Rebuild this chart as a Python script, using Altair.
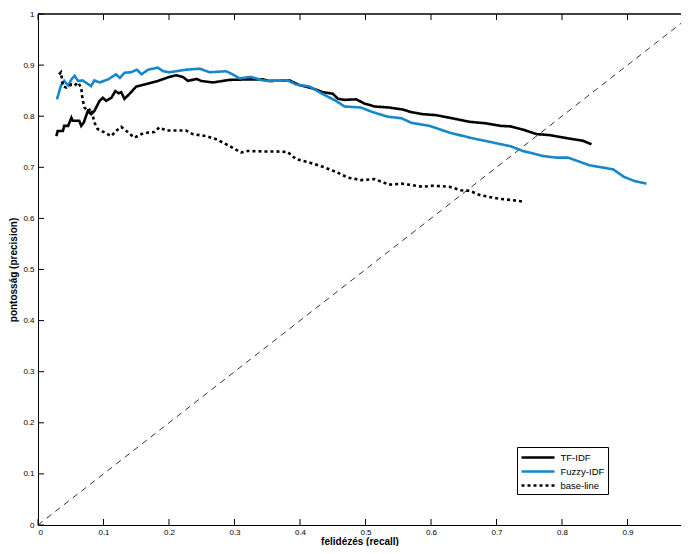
import altair as alt
import pandas as pd

tf_x = [0.028,0.030,0.038,0.040,0.046,0.051,0.053,0.063,0.066,0.070,0.076,0.081,0.086,0.094,0.099,0.104,0.112,0.118,0.123,0.127,0.132,0.140,0.150,0.163,0.183,0.201,0.211,0.221,0.229,0.242,0.249,0.267,0.292,0.318,0.343,0.353,0.384,0.399,0.420,0.435,0.450,0.458,0.468,0.486,0.498,0.514,0.536,0.557,0.570,0.587,0.608,0.636,0.659,0.684,0.707,0.722,0.740,0.761,0.781,0.812,0.832,0.845]
tf_y = [0.761,0.771,0.771,0.781,0.781,0.797,0.791,0.791,0.781,0.788,0.810,0.804,0.810,0.830,0.836,0.830,0.836,0.849,0.845,0.847,0.834,0.844,0.858,0.862,0.869,0.877,0.880,0.877,0.869,0.873,0.869,0.866,0.871,0.872,0.872,0.869,0.870,0.861,0.854,0.847,0.844,0.834,0.832,0.833,0.825,0.819,0.817,0.813,0.808,0.804,0.802,0.795,0.789,0.786,0.781,0.780,0.774,0.765,0.763,0.756,0.752,0.745]

fz_x = [0.029,0.035,0.040,0.046,0.051,0.056,0.061,0.068,0.081,0.086,0.094,0.107,0.119,0.125,0.132,0.142,0.151,0.158,0.168,0.183,0.191,0.201,0.226,0.247,0.262,0.287,0.297,0.308,0.325,0.343,0.353,0.381,0.394,0.415,0.435,0.455,0.468,0.493,0.511,0.534,0.555,0.570,0.598,0.628,0.659,0.689,0.722,0.740,0.771,0.791,0.809,0.842,0.878,0.895,0.911,0.929]
fz_y = [0.833,0.860,0.869,0.860,0.872,0.879,0.869,0.870,0.859,0.870,0.866,0.872,0.882,0.875,0.885,0.886,0.891,0.882,0.891,0.895,0.888,0.886,0.891,0.893,0.886,0.888,0.882,0.874,0.877,0.870,0.869,0.870,0.862,0.858,0.843,0.830,0.819,0.817,0.808,0.799,0.796,0.787,0.781,0.768,0.758,0.750,0.741,0.732,0.722,0.719,0.719,0.704,0.696,0.681,0.673,0.668]

bl_x = [0.032,0.035,0.038,0.043,0.051,0.056,0.061,0.066,0.068,0.071,0.076,0.081,0.086,0.091,0.102,0.112,0.119,0.127,0.135,0.147,0.158,0.168,0.178,0.185,0.196,0.211,0.226,0.236,0.257,0.272,0.292,0.310,0.320,0.343,0.364,0.381,0.394,0.415,0.435,0.455,0.473,0.493,0.514,0.536,0.555,0.572,0.587,0.603,0.628,0.646,0.659,0.674,0.689,0.707,0.722,0.740]
bl_y = [0.882,0.886,0.859,0.856,0.862,0.860,0.866,0.856,0.833,0.817,0.810,0.815,0.788,0.775,0.768,0.761,0.771,0.779,0.771,0.758,0.765,0.768,0.769,0.778,0.772,0.772,0.772,0.765,0.761,0.755,0.742,0.729,0.732,0.731,0.731,0.730,0.716,0.709,0.701,0.691,0.680,0.675,0.677,0.666,0.668,0.665,0.662,0.664,0.662,0.655,0.654,0.646,0.642,0.638,0.636,0.633]

series_names = ["TF-IDF", "Fuzzy-IDF", "base-line"]
series_colors = ["#000000", "#1787cc", "#000000"]
series_dash = [[1, 0], [1, 0], [3, 3]]

diag_x = [0.0, 1.0]
diag_y = [0.0, 1.0]
x_ticks = [0, 0.1, 0.2, 0.3, 0.4, 0.5, 0.6, 0.7, 0.8, 0.9]
y_ticks = [0, 0.1, 0.2, 0.3, 0.4, 0.5, 0.6, 0.7, 0.8, 0.9, 1.0]

# plot area (the original axes run a little past the right edge of the picture)
W, H = 643, 511
X_MAX = 643 / 655

rows = []
for name, xs, ys in zip(series_names, [tf_x, fz_x, bl_x], [tf_y, fz_y, bl_y]):
    for i, (a, b) in enumerate(zip(xs, ys)):
        rows.append({"series": name, "recall": a, "precision": b, "i": i})
df = pd.DataFrame(rows)
diag = pd.DataFrame({"recall": diag_x, "precision": diag_y})
xt = pd.DataFrame({"t": x_ticks})
yt = pd.DataFrame({"t": y_ticks})

xscale = alt.Scale(domain=[0, X_MAX], nice=False, zero=False)
yscale = alt.Scale(domain=[0, 1], nice=False, zero=False)

xaxis = alt.Axis(values=x_ticks, format=".1~f", title="felidézés (recall)",
                 ticks=False, domain=True, grid=False, labelPadding=3, titlePadding=0)
yaxis = alt.Axis(values=y_ticks, format=".1~f", title="pontosság (precision)",
                 ticks=False, domain=True, grid=False, labelPadding=4, titlePadding=4)

lines = alt.Chart(df).mark_line(strokeWidth=2.6, clip=True).encode(
    x=alt.X("recall:Q", scale=xscale, axis=xaxis),
    y=alt.Y("precision:Q", scale=yscale, axis=yaxis),
    color=alt.Color("series:N", scale=alt.Scale(domain=series_names, range=series_colors), title=None,
                    legend=alt.Legend(orient="none", legendX=479, legendY=433,
                                      symbolType="M-2.75,0H2.75", symbolSize=144,
                                      symbolStrokeWidth=2.6, symbolOffset=10.5,
                                      strokeColor="black", padding=3, rowPadding=1,
                                      labelFontSize=9.5, labelFont="Liberation Sans",
                                      labelOffset=15, fillColor="white", cornerRadius=0)),
    strokeDash=alt.StrokeDash("series:N", scale=alt.Scale(domain=series_names, range=series_dash),
                              title=None, legend=None),
    order="i:Q",
)

diag_line = alt.Chart(diag).mark_line(color="black", strokeWidth=0.8, strokeDash=[6, 5], clip=True).encode(
    x=alt.X("recall:Q", scale=xscale),
    y=alt.Y("precision:Q", scale=yscale),
)

top_border = alt.Chart(diag).mark_rule(color="black", strokeWidth=1).encode(
    x=alt.value(0), x2=alt.value(W), y=alt.value(0))

tick_b = alt.Chart(xt).mark_rule(color="black", strokeWidth=1).encode(
    x=alt.X("t:Q", scale=xscale), y=alt.value(H), y2=alt.value(H - 6))
tick_t = alt.Chart(xt).mark_rule(color="black", strokeWidth=1).encode(
    x=alt.X("t:Q", scale=xscale), y=alt.value(0), y2=alt.value(6))
tick_l = alt.Chart(yt).mark_rule(color="black", strokeWidth=1).encode(
    y=alt.Y("t:Q", scale=yscale), x=alt.value(0), x2=alt.value(6))

chart = alt.layer(diag_line, top_border, tick_b, tick_t, tick_l, lines).properties(
    width=W, height=H,
    autosize=alt.AutoSizeParams(type="none"),
    padding={"left": 30, "top": 6, "right": 0, "bottom": 21},
).configure_view(stroke=None).configure_axis(
    labelFont="Liberation Sans", labelFontSize=8, labelColor="black",
    titleFont="Liberation Sans", titleFontSize=10, titleFontWeight="bold", titleColor="black",
    domainColor="black", domainWidth=1,
).configure_legend(labelColor="black")

chart.save("out.html", embed_options={"renderer": "svg", "actions": False})
